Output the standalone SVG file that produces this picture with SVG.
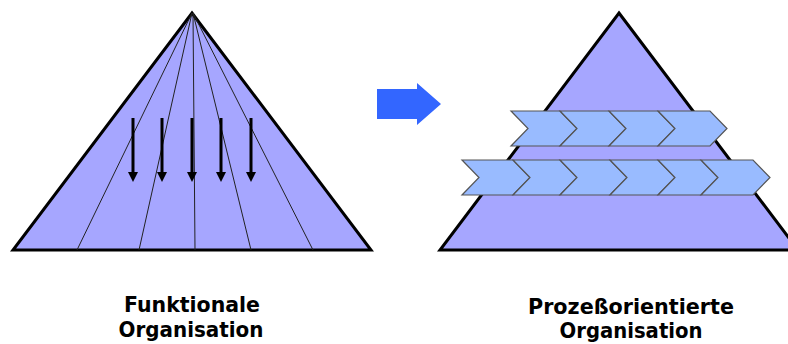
<svg xmlns="http://www.w3.org/2000/svg" width="788" height="344" viewBox="0 0 788 344">
  <style>
    .pyr { fill: #A6A6FF; stroke: #000; stroke-width: 3; stroke-linejoin: miter; }
    .div { stroke: #222; stroke-width: 1; fill: none; }
    .down { stroke: #000; stroke-width: 3; fill: none; }
    .head { fill: #000; }
    .chev { fill: #99BBFF; stroke: #555; stroke-width: 1.2; stroke-linejoin: miter; }
    .lbl { font-family: "DejaVu Sans", Verdana, sans-serif; font-weight: bold; font-size: 21px; fill: #000; text-anchor: middle; }
  </style>

  <g id="funktional-pyramid">
    <polygon class="pyr" points="192,13 371,250 13,250"/>
    <path class="div" d="M192,13 L77,250 M192,13 L139,250 M193,13 L195,250 M193,13 L251,250 M193,13 L313,250"/>
  </g>

  <g id="connectors">
    <path class="down" d="M133,118 V172 M162,118 V172 M192,118 V172 M221,118 V172 M251,118 V172"/>
    <polygon class="head" points="128,172 138,172 133,182"/>
    <polygon class="head" points="157,172 167,172 162,182"/>
    <polygon class="head" points="187,172 197,172 192,182"/>
    <polygon class="head" points="216,172 226,172 221,182"/>
    <polygon class="head" points="246,172 256,172 251,182"/>
  </g>

  <g id="transition-arrow">
    <polygon fill="#3366FF" points="377,89 417,89 417,83 441,104 417,125 417,119 377,119"/>
  </g>

  <g id="prozess-pyramid">
    <polygon class="pyr" points="619,13 798,250 440,250"/>
    <g id="process-row-1">
      <polygon class="chev" points="511,111 560,111 577,128.5 560,146 511,146 528,128.5"/>
      <polygon class="chev" points="560,111 609,111 626,128.5 609,146 560,146 577,128.5"/>
      <polygon class="chev" points="609,111 658,111 675,128.5 658,146 609,146 626,128.5"/>
      <polygon class="chev" points="658,111 710,111 727,128.5 710,146 658,146 675,128.5"/>
    </g>
    <g id="process-row-2">
      <polygon class="chev" points="462,160 513,160 530,177.5 513,195 462,195 479,177.5"/>
      <polygon class="chev" points="513,160 560,160 577,177.5 560,195 513,195 530,177.5"/>
      <polygon class="chev" points="560,160 610,160 627,177.5 610,195 560,195 577,177.5"/>
      <polygon class="chev" points="610,160 658,160 675,177.5 658,195 610,195 627,177.5"/>
      <polygon class="chev" points="658,160 701,160 718,177.5 701,195 658,195 675,177.5"/>
      <polygon class="chev" points="701,160 753,160 770,177.5 753,195 701,195 718,177.5"/>
    </g>
  </g>

  <g id="label-funktional">
    <text class="lbl" x="192" y="312" textLength="136" lengthAdjust="spacingAndGlyphs">Funktionale</text>
    <text class="lbl" x="191" y="337" textLength="145" lengthAdjust="spacingAndGlyphs">Organisation</text>
  </g>
  <g id="label-prozess">
    <text class="lbl" x="631" y="314" textLength="206" lengthAdjust="spacingAndGlyphs">Prozeßorientierte</text>
    <text class="lbl" x="631" y="338" textLength="143" lengthAdjust="spacingAndGlyphs">Organisation</text>
  </g>
</svg>
